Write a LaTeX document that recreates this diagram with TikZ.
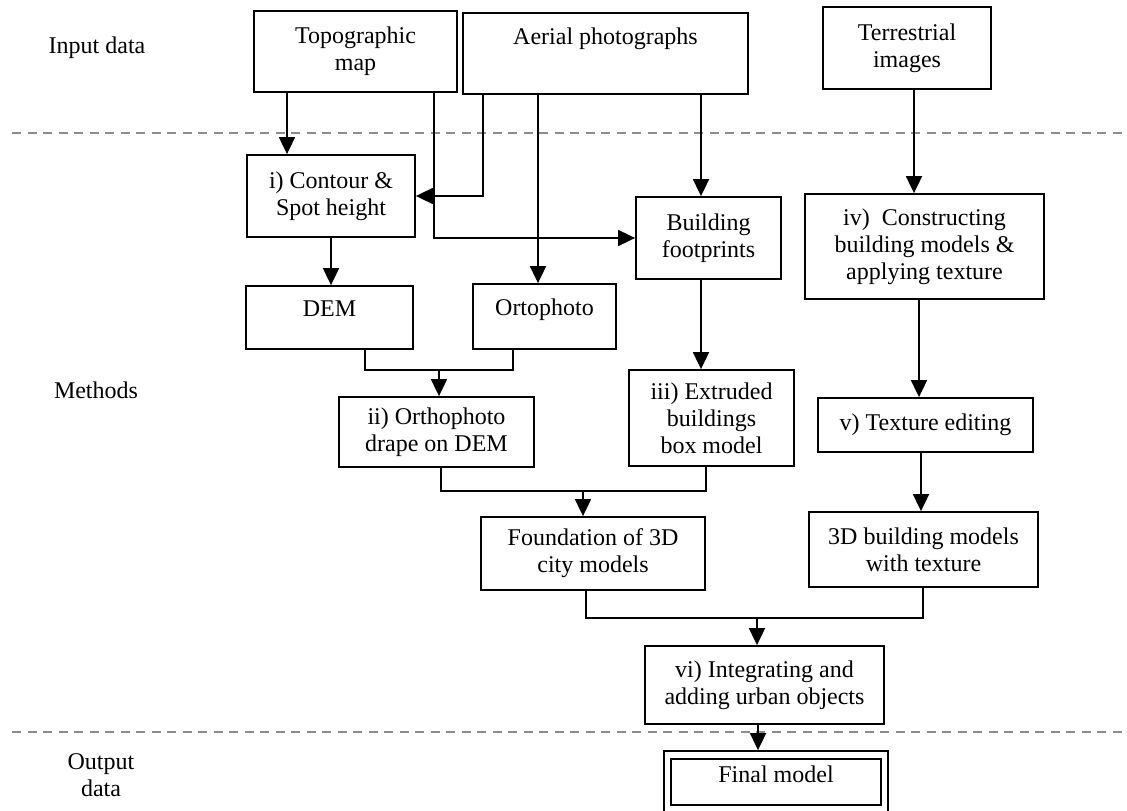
\documentclass[tikz,border=0pt]{standalone}
\usepackage{fontspec}
\setmainfont{Liberation Serif}
\usetikzlibrary{positioning,arrows.meta,calc}

\begin{document}
\begin{tikzpicture}[x=1pt,y=-1pt,
            box/.style={draw,line width=1.8pt,align=center,inner sep=0pt},
            arr/.style={line width=1.8pt,-{Triangle[width=16pt,length=17pt]}},
            lin/.style={line width=1.8pt},
            sep/.style={draw=black!45,line width=2pt,dash pattern=on 9pt off 6.5pt}]
            \tikzset{every node/.style={font=\fontsize{24}{27}\selectfont}}
            \useasboundingbox (0,0) rectangle (1127,811);
            \draw[sep] (12,133) -- (1127,133);
            \draw[sep] (12,732) -- (1127,732);
            \node (input) at (97,48) {Input data};
            \node (methods) at (96,390) {Methods};
            \node[align=center] (output) at (101,775) {Output\\data};
            \node[box,minimum width=203pt,minimum height=81pt] (topo) at (355.5,51.5) {Topographic\\map};
            \node[box,minimum width=285pt,text height=31pt,text depth=50pt] (aerial) at (605.5,53.5) {Aerial photographs};
            \node[box,minimum width=168pt,minimum height=82pt] (terrestrial) at (907,48) {Terrestrial\\images};
            \node[box,minimum width=168pt,minimum height=82pt] (contour) at (331,196) {i) Contour \&\\Spot height};
            \node[box,minimum width=145pt,minimum height=82pt] (footprints) at (708.5,238) {Building\\footprints};
            \node[box,minimum width=239pt,minimum height=105pt] (constructing) at (924.5,246.5) {iv)\ \ Constructing\\building models \&\\applying texture};
            \node[box,minimum width=167pt,text height=30pt,text depth=33pt] (dem) at (329.5,317.5) {DEM};
            \node[box,minimum width=143pt,text height=31pt,text depth=34pt] (ortophoto) at (544.5,316.5) {Ortophoto};
            \node[box,minimum width=195pt,minimum height=70pt] (drape) at (436.5,432) {ii) Orthophoto\\drape on DEM};
            \node[box,minimum width=165pt,minimum height=96pt] (extruded) at (711.5,418) {iii) Extruded\\buildings\\box model};
            \node[box,minimum width=215pt,minimum height=54pt] (editing) at (925.5,425) {v) Texture editing};
            \node[box,minimum width=224pt,minimum height=73pt] (foundation) at (593,553.5) {Foundation of 3D\\city models};
            \node[box,minimum width=229pt,minimum height=75pt] (textured) at (923.5,549.5) {3D building models\\with texture};
            \node[box,minimum width=239pt,minimum height=78pt] (integrating) at (764.5,685) {vi) Integrating and\\adding urban objects};
            \node[box,double,double distance=5.5pt,minimum width=217pt,text height=27pt,text depth=27pt] (final) at (776,782) {Final model};
            \coordinate (t1) at ([xshift=-68.5pt]topo.south);
            \coordinate (t2) at ([xshift=78.5pt]topo.south);
            \coordinate (a1) at ([xshift=-122.5pt]aerial.south);
            \coordinate (a2) at ([xshift=-67.5pt]aerial.south);
            \coordinate (a3) at ([xshift=95.5pt]aerial.south);
            \coordinate (r1) at ([xshift=7pt]terrestrial.south);
            \coordinate (f1) at ([xshift=-7.5pt]footprints.south);
            \coordinate (c1) at ([xshift=-5.5pt]constructing.south);
            \coordinate (e1) at ([xshift=-4.5pt]editing.south);
            \coordinate (i1) at ([xshift=-6.5pt]integrating.south);
            \coordinate (j1) at (439,370);
            \coordinate (j2) at (583,491);
            \coordinate (j3) at (757,618);
            \draw[arr] (t1) -- (t1 |- contour.north);
            \draw[arr] (t2) |- (footprints.west);
            \draw[arr] (a1) |- (contour.east);
            \draw[arr] (a2) -- (a2 |- ortophoto.north);
            \draw[arr] (a3) -- (a3 |- footprints.north);
            \draw[arr] (r1) -- (r1 |- constructing.north);
            \draw[arr] (contour.south) -- (contour.south |- dem.north);
            \draw[arr] (f1) -- (f1 |- extruded.north);
            \draw[arr] (c1) -- (c1 |- editing.north);
            \draw[arr] (e1) -- (e1 |- textured.north);
            \draw[lin] ([xshift=35.5pt]dem.south) |- (j1) -| ([xshift=-31.5pt]ortophoto.south);
            \draw[arr] (j1) -- (j1 |- drape.north);
            \draw[lin] ([xshift=4.5pt]drape.south) |- (j2) -| ([xshift=-5.5pt]extruded.south);
            \draw[arr] (j2) -- (j2 |- foundation.north);
            \draw[lin] ([xshift=-7pt]foundation.south) |- (j3) -| ([xshift=-0.5pt]textured.south);
            \draw[arr] (j3) -- (j3 |- integrating.north);
            \draw[arr,shorten >=4pt] (i1) -- (i1 |- final.north);
            \end{tikzpicture}
\end{document}
